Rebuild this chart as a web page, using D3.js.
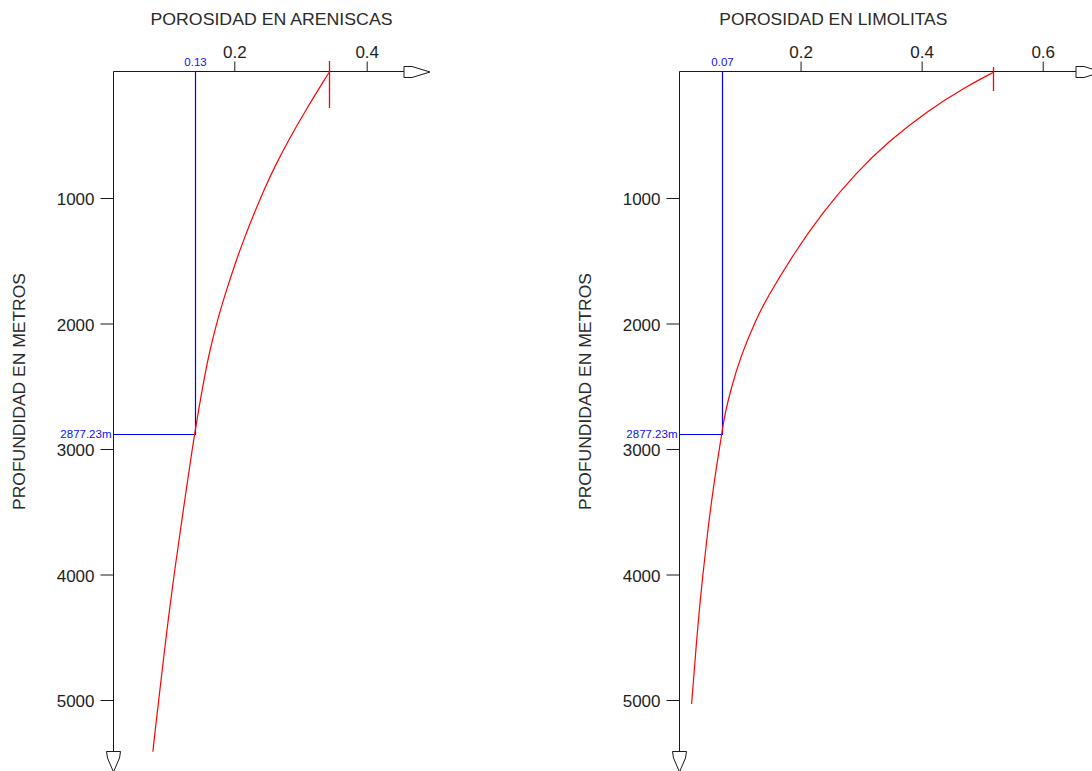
<!DOCTYPE html>
<html><head><meta charset="utf-8">
<script src="https://cdn.jsdelivr.net/npm/d3@7"></script>
<style>
html,body{margin:0;padding:0;background:#fff;}
svg{display:block;font-family:"Liberation Sans",Arial,sans-serif;}
</style></head>
<body>
<script>
// ---- data ----
const depthTicks = [1000, 2000, 3000, 4000, 5000];
const sandTicks = [0.2, 0.4];
const siltTicks = [0.2, 0.4, 0.6];

const sandDepth = [0, 299, 538, 751, 910, 1096, 1308, 1494, 1786, 1946, 2211, 2477, 2877, 3194, 3632, 3964, 4283, 4628, 4947, 5265, 5412];
const sandPorosity = [0.343, 0.308, 0.282, 0.261, 0.247, 0.232, 0.216, 0.203, 0.185, 0.176, 0.163, 0.153, 0.140, 0.131, 0.119, 0.110, 0.102, 0.094, 0.087, 0.080, 0.077];

const siltDepth = [0, 113, 311, 550, 803, 1122, 1441, 1801, 1972, 2263, 2502, 2741, 2877, 3141, 3380, 3632, 4203, 4602, 5032];
const siltPorosity = [0.518, 0.473, 0.408, 0.345, 0.291, 0.235, 0.189, 0.144, 0.126, 0.101, 0.086, 0.074, 0.070, 0.061, 0.054, 0.047, 0.034, 0.027, 0.020];

const markerDepth = 2877.23;
const markerDepthLabel = "2877.23m";
const sandMarker = 0.14, sandMarkerLabel = "0.13";
const siltMarker = 0.07, siltMarkerLabel = "0.07";

const titles = ["POROSIDAD EN ARENISCAS", "POROSIDAD EN LIMOLITAS"];
const yTitle = "PROFUNDIDAD EN METROS";

// ---- drawing ----
const W = 1092, H = 771;
const svg = d3.select("body").append("svg").attr("width", W).attr("height", H);

const y = d3.scaleLinear().domain([0, 5000]).range([72.5, 700]);

const panels = [
  {
    x: d3.scaleLinear().domain([0.2, 0.4]).range([234.3, 366.7]),
    axisX: 113.5, arrowX: 404, ticks: sandTicks,
    depth: sandDepth, por: sandPorosity,
    marker: sandMarker, markerLabel: sandMarkerLabel,
    title: titles[0], titleX: 271.5, titleLen: 242,
    yTitleX: 25, redTick: [61, 108]
  },
  {
    x: d3.scaleLinear().domain([0, 0.6]).range([679.5, 1042.7]),
    axisX: 679.5, arrowX: 1076, ticks: siltTicks,
    depth: siltDepth, por: siltPorosity,
    marker: siltMarker, markerLabel: siltMarkerLabel,
    title: titles[1], titleX: 833.3, titleLen: 228,
    yTitleX: 591, redTick: [67, 91]
  }
];

const axisColor = "#1a1a1a";
const textColor = "#1e1e1e";
const axisY = 71.5;

panels.forEach(p => {
  const g = svg.append("g");

  g.append("text").attr("x", p.titleX).attr("y", 25)
    .attr("text-anchor", "middle").attr("font-size", 17)
    .attr("fill", "#2a2a2a")
    .attr("textLength", p.titleLen).attr("lengthAdjust", "spacingAndGlyphs")
    .text(p.title);

  g.append("text")
    .attr("transform", `translate(${p.yTitleX},391.5) rotate(-90)`)
    .attr("text-anchor", "middle").attr("font-size", 17).attr("fill", "#2a2a2a")
    .attr("textLength", 237).attr("lengthAdjust", "spacingAndGlyphs")
    .text(yTitle);

  const ya = g.append("g").attr("transform", `translate(${p.axisX},0)`)
    .call(d3.axisLeft(y).tickValues(depthTicks).tickSize(13).tickPadding(6).tickFormat(d3.format("d")));
  ya.select(".domain").remove();
  ya.selectAll("line").attr("stroke", axisColor);
  ya.selectAll("text").attr("font-size", 17).attr("fill", textColor)
    .attr("font-family", "Liberation Sans, Arial, sans-serif").attr("dy", "0.4em");

  const xa = g.append("g").attr("transform", `translate(0,${axisY})`)
    .call(d3.axisTop(p.x).tickValues(p.ticks).tickSize(10).tickPadding(4).tickFormat(d3.format(".1f")));
  xa.select(".domain").remove();
  xa.selectAll("line").attr("stroke", axisColor);
  xa.selectAll("text").attr("font-size", 17).attr("fill", textColor)
    .attr("font-family", "Liberation Sans, Arial, sans-serif");

  g.append("line").attr("x1", p.axisX).attr("x2", p.arrowX)
    .attr("y1", axisY).attr("y2", axisY).attr("stroke", axisColor);
  g.append("line").attr("x1", p.axisX).attr("x2", p.axisX)
    .attr("y1", axisY).attr("y2", 751).attr("stroke", axisColor);

  const ax = p.arrowX;
  g.append("path")
    .attr("d", `M${ax},66.5 L${ax + 8},66.5 L${ax + 26},72 L${ax + 8},77.5 L${ax},77.5 Z`)
    .attr("fill", "#fff").attr("stroke", axisColor).attr("stroke-linejoin", "miter");
  const bx = p.axisX;
  g.append("path")
    .attr("d", `M${bx - 7},751.5 L${bx + 7},751.5 L${bx + 6},758 L${bx},772 L${bx - 6},758 Z`)
    .attr("fill", "#fff").attr("stroke", axisColor).attr("stroke-linejoin", "miter");

  const mx = Math.round(p.x(p.marker)) + 0.5;
  const my = Math.round(y(markerDepth)) + 0.5;
  g.append("path")
    .attr("d", `M${p.axisX},${my} L${mx},${my} L${mx},${axisY}`)
    .attr("fill", "none").attr("stroke", "#0000ff").attr("stroke-width", 1.2);
  g.append("text").attr("x", mx).attr("y", 66)
    .attr("text-anchor", "middle").attr("font-size", 11.5).attr("fill", "#1010ff")
    .text(p.markerLabel);
  g.append("text").attr("x", p.axisX - 2).attr("y", my + 3)
    .attr("text-anchor", "end").attr("font-size", 11.5).attr("fill", "#1010ff")
    .text(markerDepthLabel);

  const pts = p.depth.map((d, i) => [p.por[i], d]);
  g.append("path").datum(pts)
    .attr("d", d3.line().x(d => p.x(d[0])).y(d => y(d[1])).curve(d3.curveBasis))
    .attr("fill", "none").attr("stroke", "#ff0000").attr("stroke-width", 1.2);

  const rx = Math.round(p.x(p.por[0])) + 0.5;
  g.append("line").attr("x1", rx).attr("x2", rx)
    .attr("y1", p.redTick[0]).attr("y2", p.redTick[1])
    .attr("stroke", "#ff0000").attr("stroke-width", 1.3);
});
</script>
</body></html>
